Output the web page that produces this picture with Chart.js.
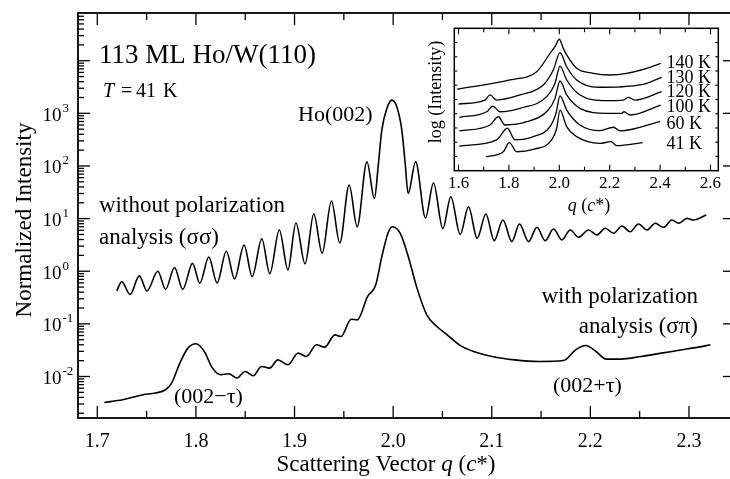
<!DOCTYPE html>
<html><head><meta charset="utf-8">
<script src="https://cdn.jsdelivr.net/npm/chart.js@4/dist/chart.umd.min.js"></script>
<style>
html,body{margin:0;padding:0;background:#fff;overflow:hidden;width:730px;height:479px;}
#wrap{position:relative;width:730px;height:479px;overflow:hidden;background:#fff;}
#main{position:absolute;left:0;top:0;}
#inset{position:absolute;left:420px;top:0;}
</style></head><body>
<div id="wrap">
<canvas id="main" width="740" height="479"></canvas>
<canvas id="inset" width="310" height="230"></canvas>
</div>
<script>
// ---- main panel data (q in c*, normalized intensity) ----
const qSigmaSigma = [1.7197,1.7248,1.7332,1.7426,1.7504,1.7614,1.7692,1.7783,1.7866,1.7966,1.8039,1.8131,1.8214,1.8309,1.8392,1.8488,1.8571,1.8668,1.8749,1.8846,1.8933,1.9014,1.9107,1.9195,1.9280,1.9374,1.9459,1.9554,1.9635,1.9734,1.9810,1.9851,1.9885,1.9936,1.9987,2.0037,2.0088,2.0122,2.0152,2.0228,2.0328,2.0409,2.0504,2.0585,2.0680,2.0764,2.0852,2.0940,2.1025,2.1113,2.1204,2.1281,2.1373,2.1458,2.1542,2.1626,2.1711,2.1796,2.1880,2.1981,2.2066,2.2151,2.2235,2.2320,2.2404,2.2488,2.2574,2.2658,2.2742,2.2827,2.2894,2.2980,2.3046,2.3175];
const iSigmaSigma = [0.423,0.635,0.363,0.815,0.423,1.00,0.452,1.18,0.452,1.41,0.592,1.87,0.60,2.40,0.714,3.16,0.79,4.14,0.90,6.08,1.06,8.25,1.38,12.2,2.20,21.6,3.44,43.4,7.02,120,24.1,112,480,1239,1780,1328,480,112,29.9,120,10.3,47.4,6.43,26.0,4.99,16.8,4.23,12.2,3.81,9.40,3.65,7.90,3.65,6.84,3.81,6.35,3.93,6.08,4.42,6.08,4.89,6.55,5.26,7.24,5.64,7.90,6.08,8.15,6.84,9.40,8.15,10.1,9.40,11.7];
const qSigmaPi = [1.7071,1.7257,1.7464,1.7588,1.7692,1.7754,1.7837,1.7919,1.8001,1.8085,1.8168,1.8251,1.8333,1.8416,1.8498,1.8582,1.8665,1.8747,1.8830,1.8934,1.9037,1.9119,1.9223,1.9306,1.9409,1.9471,1.9575,1.9637,1.9740,1.9823,1.9885,1.9947,1.9989,2.0072,2.0154,2.0237,2.0341,2.0444,2.0548,2.0671,2.0817,2.1003,2.1230,2.1479,2.1728,2.1851,2.1955,2.2058,2.2162,2.2307,2.2514,2.2721,2.2928,2.3094,2.3218];
const iSigmaPi = [0.00321,0.00361,0.00450,0.00484,0.0056,0.0075,0.01795,0.0346,0.0418,0.0298,0.0144,0.0108,0.01125,0.00933,0.01245,0.0103,0.0155,0.0144,0.0207,0.0167,0.0278,0.0240,0.0400,0.0361,0.0618,0.0574,0.1227,0.119,0.330,0.550,1.89,5.26,7.02,5.26,1.89,0.510,0.148,0.0889,0.0618,0.0400,0.0298,0.0240,0.0207,0.0193,0.0201,0.0321,0.0387,0.0298,0.0214,0.0214,0.0240,0.0278,0.0321,0.0361,0.0400];
const xTickLabels = ['1.7','1.8','1.9','2.0','2.1','2.2','2.3'];
const yDecadeExponents = [-2,-1,0,1,2,3];

// ---- inset data (q in c*, log intensity, arbitrary offset units) ----
const insetTemps = ['140 K','130 K','120 K','100 K','60 K','41 K'];
const q140 = [1.5952,1.8044,1.9103,1.9631,1.983,2.0,2.0159,2.0294,2.069,2.135,2.2012,2.2675,2.3468,2.4024];
const v140 = [57.2,63.7,69.5,82.4,87.1,92.3,85.9,81.3,71.9,68.4,67.2,68.4,71.9,75.4];
const q130 = [1.5992,1.7052,1.725,1.7516,1.844,1.9365,1.9762,2.0028,2.0294,2.069,2.1746,2.2675,2.3468,2.4063];
const v130 = [46.8,49.6,53.2,49.6,53.2,60.2,70.7,82.9,73.0,63.7,58.6,59.2,61.4,65.6];
const q120 = [1.6032,1.7119,1.7357,1.7647,1.844,1.95,1.9829,2.0028,2.0294,2.0821,2.1881,2.254,2.2738,2.3004,2.4063];
const v120 = [37.5,41.4,45.4,41.4,43.8,52.0,61.4,73.5,63.7,53.2,49.2,49.6,51.5,49.6,55.5];
const q100 = [1.6032,1.725,1.7579,1.7845,1.8706,1.9563,1.9829,2.0028,2.0294,2.0821,2.1881,2.2476,2.2567,2.2806,2.4024];
const v100 = [27.9,32.1,37.9,32.1,34.4,42.6,50.8,63.0,53.2,43.8,40.3,40.3,41.4,39.1,46.1];
const q60 = [1.6032,1.7516,1.7937,1.8242,1.8968,1.9631,1.9869,2.0028,2.0294,2.0821,2.1615,2.2143,2.2409,2.3996];
const v60 = [17.3,21.6,29.8,21.6,23.9,30.9,40.3,52.5,42.6,32.1,28.1,30.5,27.9,34.4];
const q41 = [1.7091,1.7778,1.8016,1.8310,1.8968,1.9698,1.9897,2.0028,2.0294,2.069,2.1615,2.2052,2.2278,2.331];
const v41 = [9.8,13.3,19.7,13.3,15.0,21.6,29.8,42.6,30.9,23.9,19.2,20.4,17.6,19.7];
const insetTickLabels = ['1.6','1.8','2.0','2.2','2.4','2.6'];

const SERIF = '"Liberation Serif","Times New Roman",serif';
function pts(xs, ys){ return xs.map((x,i)=>({x:x, y:ys[i]})); }
function seg(ctx, parts, x, y, align){
  let w = 0;
  parts.forEach(p=>{ ctx.font = p[1]; w += ctx.measureText(p[0]).width; });
  let cx = align==='center' ? x - w/2 : (align==='right' ? x - w : x);
  ctx.textAlign = 'left';
  parts.forEach(p=>{ ctx.font = p[1]; ctx.fillText(p[0], cx, y); cx += ctx.measureText(p[0]).width; });
}
function ln(ctx,x1,y1,x2,y2){ ctx.beginPath(); ctx.moveTo(x1,y1); ctx.lineTo(x2,y2); ctx.stroke(); }

const lineStyle = {borderColor:'#000', borderWidth:1.6, pointRadius:0, fill:false, cubicInterpolationMode:'monotone'};

const mainDeco = {
  id:'mainDeco',
  afterDraw(chart){
    const ctx = chart.ctx, a = chart.chartArea, xs = chart.scales.x, ys = chart.scales.y;
    ctx.save();
    ctx.strokeStyle = '#000'; ctx.fillStyle = '#000';
    ctx.lineWidth = 1.8;
    ctx.strokeRect(a.left, a.top, a.right - a.left, a.bottom - a.top);
    ctx.lineWidth = 1.3;
    // x ticks every 0.05
    for (let k = -1; k <= 14; k++){
      const q = 1.7 + k*0.05, px = xs.getPixelForValue(q);
      if (px < a.left + 1 || px > a.right - 1) continue;
      const len = (k % 2 === 0) ? 12 : 7;
      ln(ctx, px, a.bottom, px, a.bottom - len);
      ln(ctx, px, a.top, px, a.top + len);
    }
    // y ticks (log)
    for (let d = -3; d <= 5; d++) for (let m = 1; m <= 9; m++){
      const py = ys.getPixelForValue(m * Math.pow(10, d));
      if (py < a.top + 1 || py > a.bottom - 1) continue;
      ln(ctx, a.left, py, a.left + (m === 1 ? 12 : 6), py);
      if (m === 1) ln(ctx, a.right, py, a.right - 8, py);
    }
    // x tick labels
    ctx.textBaseline = 'alphabetic';
    xTickLabels.forEach(t=>{
      seg(ctx, [[t, '20px '+SERIF]], xs.getPixelForValue(parseFloat(t)), 447, 'center');
    });
    // y tick labels 10^n
    yDecadeExponents.forEach(e=>{
      const py = ys.getPixelForValue(Math.pow(10, e));
      ctx.font = '19px '+SERIF; ctx.textAlign = 'left';
      ctx.fillText('10', 42.5, py + 7.5);
      ctx.font = '13px '+SERIF;
      ctx.fillText(String(e), 62.5, py - 1.5);
    });
    // axis titles
    seg(ctx, [['Scattering Vector ', '23px '+SERIF], ['q', 'italic 23px '+SERIF], [' (', '23px '+SERIF], ['c', 'italic 23px '+SERIF], ['*)', '23px '+SERIF]], 386, 471, 'center');
    ctx.save();
    ctx.translate(31, 220); ctx.rotate(-Math.PI/2);
    seg(ctx, [['Normalized Intensity', '23px '+SERIF]], 0, 0, 'center');
    ctx.restore();
    // annotations
    seg(ctx, [['113 ML Ho/W(110)', '27px '+SERIF]], 99, 63, 'left');
    ctx.font = 'italic 20px '+SERIF; ctx.textAlign='left'; ctx.fillText('T', 103, 97);
    ctx.font = '20px '+SERIF; ctx.fillText('=', 121, 97); ctx.fillText('41', 136, 97); ctx.fillText('K', 163, 97);
    seg(ctx, [['Ho(002)', '22px '+SERIF]], 298, 121, 'left');
    seg(ctx, [['without polarization', '23px '+SERIF]], 99, 212, 'left');
    seg(ctx, [['analysis (σσ)', '23px '+SERIF]], 99, 244, 'left');
    seg(ctx, [['with polarization', '23px '+SERIF]], 698, 303, 'right');
    seg(ctx, [['analysis (σπ)', '23px '+SERIF]], 698, 333, 'right');
    seg(ctx, [['(002\u2212τ)', '22px '+SERIF]], 174, 403, 'left');
    seg(ctx, [['(002+τ)', '22px '+SERIF]], 553, 392, 'left');
    ctx.restore();
  }
};

new Chart(document.getElementById('main'), {
  type:'line',
  data:{datasets:[
    Object.assign({label:'without polarization analysis (σσ)', data:pts(qSigmaSigma, iSigmaSigma)}, lineStyle),
    Object.assign({label:'with polarization analysis (σπ)', data:pts(qSigmaPi, iSigmaPi)}, lineStyle)
  ]},
  options:{
    responsive:false, animation:false, devicePixelRatio:1,
    layout:{padding:{left:78, top:13, right:9, bottom:61}},
    plugins:{legend:{display:false}, tooltip:{enabled:false}},
    scales:{
      x:{type:'linear', min:1.68042, max:2.34261, display:false},
      y:{type:'logarithmic', min:0.001626, max:80700, display:false}
    }
  },
  plugins:[mainDeco]
});

const insetDeco = {
  id:'insetDeco',
  afterDraw(chart){
    const ctx = chart.ctx, a = chart.chartArea, xs = chart.scales.x, ys = chart.scales.y;
    ctx.save();
    ctx.strokeStyle = '#000'; ctx.fillStyle = '#000';
    ctx.lineWidth = 1.5;
    ctx.strokeRect(a.left, a.top, a.right - a.left, a.bottom - a.top);
    ctx.lineWidth = 1.1;
    for (let k = 0; k <= 10; k++){
      const px = xs.getPixelForValue(1.6 + k*0.1);
      const len = (k % 2 === 0) ? 6 : 4;
      ln(ctx, px, a.bottom, px, a.bottom - len);
      ln(ctx, px, a.top, px, a.top + len);
    }
    for (let v = 10; v < 100; v += 10){
      const py = ys.getPixelForValue(v);
      ln(ctx, a.left, py, a.left + 3, py);
      ln(ctx, a.right, py, a.right - 3, py);
    }
    insetTickLabels.forEach(t=>{
      seg(ctx, [[t, '17px '+SERIF]], xs.getPixelForValue(parseFloat(t)), 188, 'center');
    });
    seg(ctx, [['q', 'italic 18px '+SERIF], [' (', '18px '+SERIF], ['c', 'italic 18px '+SERIF], ['*)', '18px '+SERIF]], 169, 211, 'center');
    ctx.save();
    ctx.translate(21, 92); ctx.rotate(-Math.PI/2);
    seg(ctx, [['log (Intensity)', '18px '+SERIF]], 0, 0, 'center');
    ctx.restore();
    const baselines = [68, 82.5, 96.5, 111.5, 128.5, 149];
    insetTemps.forEach((t,i)=>{ seg(ctx, [[t, '18px '+SERIF]], 246.5, baselines[i], 'left'); });
    ctx.restore();
  }
};
const thin = {borderColor:'#000', borderWidth:1.3, pointRadius:0, fill:false, cubicInterpolationMode:'monotone'};
new Chart(document.getElementById('inset'), {
  type:'line',
  data:{datasets:[
    Object.assign({label:insetTemps[0], data:pts(q140, v140)}, thin),
    Object.assign({label:insetTemps[1], data:pts(q130, v130)}, thin),
    Object.assign({label:insetTemps[2], data:pts(q120, v120)}, thin),
    Object.assign({label:insetTemps[3], data:pts(q100, v100)}, thin),
    Object.assign({label:insetTemps[4], data:pts(q60, v60)}, thin),
    Object.assign({label:insetTemps[5], data:pts(q41, v41)}, thin)
  ]},
  options:{
    responsive:false, animation:false, devicePixelRatio:1,
    layout:{padding:{left:34.3, top:28.3, right:11.7, bottom:59.3}},
    plugins:{legend:{display:false}, tooltip:{enabled:false}},
    scales:{
      x:{type:'linear', min:1.5833, max:2.631, display:false},
      y:{type:'linear', min:0, max:100, display:false}
    }
  },
  plugins:[insetDeco]
});
</script>
</body></html>
